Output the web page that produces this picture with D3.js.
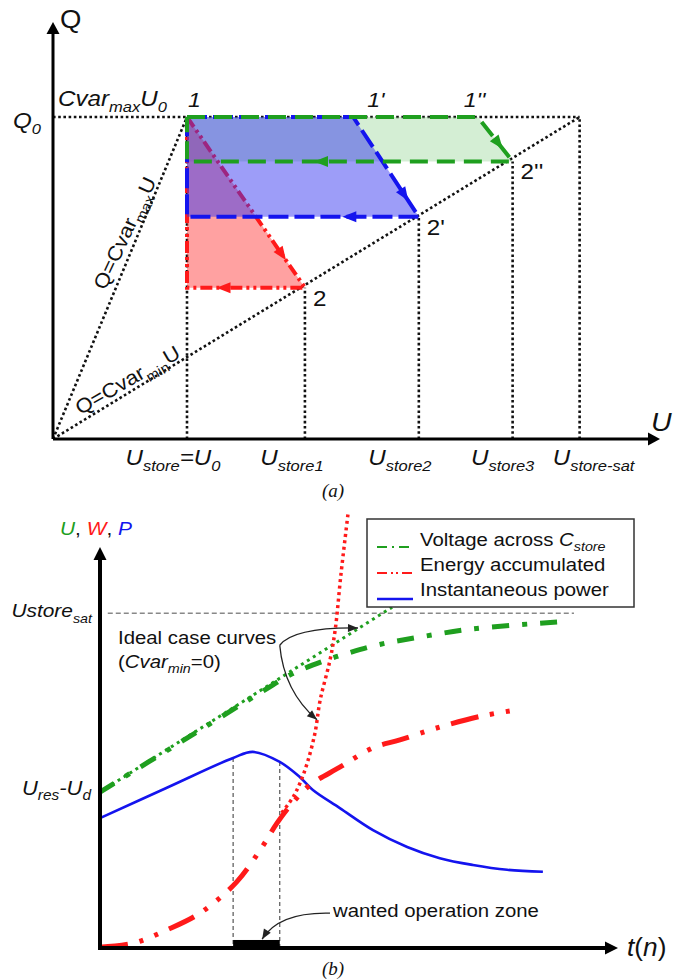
<!DOCTYPE html>
<html><head><meta charset="utf-8">
<script src="https://cdn.jsdelivr.net/npm/d3@7"></script>
<style>body{margin:0;background:#fff}svg{display:block}</style>
</head><body>
<svg id="c" width="682" height="980"></svg>
<script>
// ================= DATA =================
// ---- panel (a): Q-U charge cycles ----
const uLevels     = [1.00, 1.88, 2.73, 3.43, 3.93];          // U0, Ustore1, Ustore2, Ustore3, Ustore-sat
const uLevelNames = ["U_{store}=U_{0}", "U_{store1}", "U_{store2}", "U_{store3}", "U_{store-sat}"];
const q0 = 1.0;                                              // Q0 = Cvar_max * U0
const cycleTopU = [1.00, 2.24, 3.17];                        // points 1, 1', 1''
const cycleEndU = [1.88, 2.73, 3.43];                        // points 2, 2', 2''
const cycleEndQ = [0.47, 0.69, 0.862];
const topLabels = ["1", "1'", "1''"];
const endLabels = ["2", "2'", "2''"];

// ---- panel (b): time evolution ----
const tVolt  = [0, 16, 31.5, 37, 43, 48, 54, 62, 72, 88.4];
const vVolt  = [38.9, 51.7, 64.1, 68.3, 71.5, 73.6, 75.7, 77.6, 79.6, 81.3];
const tVoltIdeal = [0, 56.4];
const vVoltIdeal = [38.9, 85.0];
const tEnergy = [0, 6.4, 12.9, 19.3, 26.4, 31.3, 34.2, 37.3, 40.5, 46.3, 52.7, 57.9, 65.6, 73.9, 80.5];
const vEnergy = [0.2, 1.2, 4.5, 8.7, 16.5, 25.2, 31.2, 36.4, 40.6, 45.1, 49.9, 51.9, 55.1, 57.9, 59.4];
const tEnergyIdeal = [35.1, 37.3, 38.6, 40.0, 41.5, 42.5, 44.4, 45.4, 46.5, 47.9];
const vEnergyIdeal = [33.7, 37.7, 41.1, 46.1, 53.6, 61.8, 71.8, 79.3, 93.0, 108.5];
const tPower = [0, 12.8, 25.7, 29.5, 34.7, 38.6, 41.1, 46.3, 52.7, 59.3, 65.6, 72.0, 78.6, 85.5];
const vPower = [32.4, 39.9, 47.4, 48.9, 46.4, 42.6, 39.4, 34.9, 29.4, 25.2, 22.4, 20.7, 19.5, 19.0];
const zoneT = [25.7, 34.7];                                  // wanted operation zone
const yLevels = [83.5, 38.9];
const yLevelNames = ["Ustore_{sat}", "U_{res}-U_{d}"];
const legendNames = ["Voltage across |C_{store}|", "Energy accumulated", "Instantaneous power"];

// ================= STYLE =================
const FONT = "Arial, 'Liberation Sans', sans-serif";
const SERIF = "'Times New Roman', 'Liberation Serif', serif";
const RED = "#ff1a1a", BLUE = "#1414ee", GREEN = "#1f9f1f";
const svg = d3.select("#c");

function parse(s, baseIt) {
  const parts = []; let it = baseIt, buf = "", i = 0;
  const push = () => { if (buf) parts.push({t: buf, sub: false, it}); buf = ""; };
  while (i < s.length) {
    const c = s[i];
    if (c === "|") { push(); it = !it; i++; }
    else if (c === "_" && s[i + 1] === "{") { push(); const j = s.indexOf("}", i); parts.push({t: s.slice(i + 2, j), sub: true, it}); i = j + 1; }
    else { buf += c; i++; }
  }
  push();
  return parts;
}
function label(parent, x, y, str, o = {}) {
  const size = o.size || 22, sub = o.sub || Math.round(size * 0.68), subDy = o.subDy != null ? o.subDy : Math.round(size * 0.28);
  const g = parent.append("g").attr("transform", `translate(${x},${y}) rotate(${o.rot || 0}) scale(${o.sx || 1.1},1)`);
  const t = g.append("text").attr("font-family", o.family || FONT).attr("font-size", size)
    .attr("text-anchor", o.anchor || "start").attr("fill", o.fill || "#111").style("white-space", "pre");
  let cur = 0;
  parse(str, !!o.italic).forEach(p => {
    const target = p.sub ? subDy : 0;
    const ts = t.append("tspan").text(p.t).attr("dy", target - cur).attr("font-style", p.it ? "italic" : "normal");
    if (p.sub) ts.attr("font-size", sub);
    cur = target;
  });
  return t;
}
function arrowHead(parent, x, y, ang, len, wid, color) {
  const c = Math.cos(ang), s = Math.sin(ang);
  const bx = x - c * len, by = y - s * len;
  const px = -s * wid / 2, py = c * wid / 2;
  parent.append("path").attr("d", `M${x},${y}L${bx + px},${by + py}L${bx - px},${by - py}Z`).attr("fill", color);
}

// ================= PANEL (a) =================
const xA = d3.scaleLinear().domain([0, 1]).range([53, 187]);
const yA = d3.scaleLinear().domain([0, 1]).range([439, 117]);
const lineA = d3.line().x(d => xA(d[0])).y(d => yA(d[1]));
const gA = svg.append("g");
const dotted = sel => sel.attr("stroke", "#111").attr("stroke-width", 2.6).attr("stroke-dasharray", "2.6,2.6").attr("fill", "none");

gA.append("path").attr("d", lineA([[0, q0], [uLevels[4], q0]])).call(dotted);
uLevels.forEach((u, i) => {
  const top = (i === 0 || i === 4) ? q0 : cycleEndQ[i - 1];
  gA.append("path").attr("d", lineA([[u, 0], [u, top]])).call(dotted);
});
gA.append("path").attr("d", lineA([[0, 0], [uLevels[0], q0]])).call(dotted);   // Q = Cvar_max U
gA.append("path").attr("d", lineA([[0, 0], [uLevels[4], q0]])).call(dotted);   // Q = Cvar_min U

const cyc = i => [[uLevels[0], q0], [cycleTopU[i], q0], [cycleEndU[i], cycleEndQ[i]], [uLevels[0], cycleEndQ[i]], [uLevels[0], q0]];
const cycStyle = [
  {fill: "rgba(255,40,40,0.44)", stroke: RED, dash: "12,4,3,4,3,4", diag: 0.84, bot: 0.75},
  {fill: "rgba(50,50,240,0.48)", stroke: BLUE, dash: "20,6", diag: 0.84, bot: 0.33},
  {fill: "rgba(130,205,130,0.34)", stroke: GREEN, dash: "18,9", diag: 0.72, bot: 0.61}
];
function drawFill(i) { gA.append("path").attr("d", lineA(cyc(i))).attr("fill", cycStyle[i].fill).attr("stroke", "none"); }
function drawStroke(i) {
  const st = cycStyle[i];
  gA.append("path").attr("d", lineA(cyc(i))).attr("fill", "none").attr("stroke", st.stroke)
    .attr("stroke-width", 4).attr("stroke-dasharray", st.dash);
  const p1 = [xA(cycleTopU[i]), yA(q0)], p2 = [xA(cycleEndU[i]), yA(cycleEndQ[i])], p3 = [xA(uLevels[0]), yA(cycleEndQ[i])];
  const a1 = Math.atan2(p2[1] - p1[1], p2[0] - p1[0]);
  arrowHead(gA, p1[0] + (p2[0] - p1[0]) * st.diag, p1[1] + (p2[1] - p1[1]) * st.diag, a1, 14, 11, st.stroke);
  arrowHead(gA, p2[0] + (p3[0] - p2[0]) * st.bot, p2[1], Math.PI, 14, 11, st.stroke);
}
drawFill(2); drawFill(0); drawStroke(0); drawFill(1); drawStroke(1); drawStroke(2);

// axes (a)
gA.append("path").attr("d", lineA([[0, 0], [0, 1.26]])).attr("stroke", "#000").attr("stroke-width", 3);
gA.append("path").attr("d", lineA([[0, 0], [4.45, 0]])).attr("stroke", "#000").attr("stroke-width", 3);
arrowHead(gA, xA(0), yA(1.295), -Math.PI / 2, 12, 13, "#000");
arrowHead(gA, xA(4.53), yA(0), 0, 12, 13, "#000");

// labels (a)
label(gA, xA(0) + 7, yA(1.295) + 6, "Q", {size: 25});
label(gA, xA(4.53) - 9, yA(0) - 8, "U", {size: 26, italic: true});
label(gA, xA(0) - 40, yA(q0) + 11, "Q_{0}", {size: 22, italic: true});
label(gA, xA(0) + 5, yA(q0) - 11, "Cvar_{max}U_{0}", {size: 22, italic: true});
const topDx = [1, 14, -14];
cycleTopU.forEach((u, i) => label(gA, xA(u) + topDx[i], yA(q0) - 10, topLabels[i], {size: 21, italic: true}));
cycleEndU.forEach((u, i) => label(gA, xA(u) + 8, yA(cycleEndQ[i]) + 18, endLabels[i], {size: 22}));
const uLabDx = [-14, -13, -19, -10, 14];
uLevels.forEach((u, i) => label(gA, xA(u) + uLabDx[i], yA(0) + 26, uLevelNames[i], {size: 22, italic: true, sub: 15, subDy: 6, anchor: "middle"}));
label(gA, 131, 236, "Q=Cvar_{max}U", {size: 20, rot: -65, anchor: "middle", sub: 14, subDy: 6});
label(gA, 131, 386, "Q=Cvar_{min}U", {size: 20, rot: -30, anchor: "middle", sub: 14, subDy: 6});
label(gA, 322, 497, "(a)", {size: 19, italic: true, family: SERIF, sx: 1});

// ================= PANEL (b) =================
const xB = d3.scaleLinear().domain([0, 100]).range([100, 618]);
const yB = d3.scaleLinear().domain([0, 100]).range([948, 547]);
const gB = svg.append("g");
const curve = d3.curveCatmullRom.alpha(0.5);
const lineB = d3.line().x(d => xB(d[0])).y(d => yB(d[1])).curve(curve);
const zip = (a, b) => a.map((v, i) => [v, b[i]]);

// reference lines
gB.append("path").attr("d", d3.line()([[xB(1.5), yB(yLevels[0])], [xB(91.5), yB(yLevels[0])]]))
  .attr("stroke", "#888").attr("stroke-width", 1.5).attr("stroke-dasharray", "5,3").attr("fill", "none");
zoneT.forEach(t => {
  const v = vPower[tPower.indexOf(t)];
  gB.append("path").attr("d", d3.line()([[xB(t), yB(v)], [xB(t), yB(0)]]))
    .attr("stroke", "#555").attr("stroke-width", 1.2).attr("stroke-dasharray", "4,3").attr("fill", "none");
});

// curves
gB.append("path").attr("d", lineB(zip(tPower, vPower))).attr("fill", "none").attr("stroke", BLUE).attr("stroke-width", 2.6);
gB.append("path").attr("d", d3.line().x(d => xB(d[0])).y(d => yB(d[1]))(zip(tVoltIdeal, vVoltIdeal)))
  .attr("fill", "none").attr("stroke", GREEN).attr("stroke-width", 3).attr("stroke-dasharray", "3,4");
gB.append("path").attr("d", lineB(zip(tVolt, vVolt))).attr("fill", "none").attr("stroke", GREEN)
  .attr("stroke-width", 5).attr("stroke-dasharray", "17,13,5,13");
gB.append("path").attr("d", lineB(zip(tEnergyIdeal, vEnergyIdeal))).attr("fill", "none").attr("stroke", RED)
  .attr("stroke-width", 3.5).attr("stroke-dasharray", "3,3.5");
gB.append("path").attr("d", lineB(zip(tEnergy, vEnergy))).attr("fill", "none").attr("stroke", RED)
  .attr("stroke-width", 5).attr("stroke-dasharray", "28,12,4,12,4,12");

// axes (b)
gB.append("path").attr("d", d3.line()([[xB(0), yB(0)], [xB(0), yB(97)]])).attr("stroke", "#000").attr("stroke-width", 4);
gB.append("path").attr("d", d3.line()([[xB(0) - 2, yB(0)], [xB(97.7), yB(0)]])).attr("stroke", "#000").attr("stroke-width", 4);
arrowHead(gB, xB(0), yB(100), -Math.PI / 2, 13, 13, "#000");
arrowHead(gB, xB(100), yB(0), 0, 13, 13, "#000");
gB.append("rect").attr("x", xB(zoneT[0])).attr("y", yB(2)).attr("width", xB(zoneT[1]) - xB(zoneT[0])).attr("height", yB(0) - yB(2)).attr("fill", "#000");

// y level labels
label(gB, 92, yB(yLevels[0]) + 4, yLevelNames[0], {size: 19, italic: true, anchor: "end", sub: 13, subDy: 6});
label(gB, 91, yB(yLevels[1]) + 3, yLevelNames[1], {size: 20, italic: true, anchor: "end", sub: 14, subDy: 5});
const uwp = label(gB, 60, 535, "U|, |W|, |P", {size: 19, italic: true});
uwp.selectAll("tspan").attr("fill", (d, i) => [GREEN, "#111", RED, "#111", BLUE][i]);
label(gB, 627, 956, "|t|(|n|)", {size: 25, sx: 1.05});
label(gB, 322, 975, "(b)", {size: 19, italic: true, family: SERIF, sx: 1});

// annotations
label(gB, 118, 644, "Ideal case curves", {size: 18.5});
label(gB, 118, 668, "(|Cvar_{min}|=0)", {size: 18.5, sub: 13, subDy: 5});
label(gB, 333, 917, "wanted operation zone", {size: 18.5});
function curvedArrow(p0, c, p1) {
  const P0 = [xB(p0[0]), yB(p0[1])], C = [xB(c[0]), yB(c[1])], P1 = [xB(p1[0]), yB(p1[1])];
  gB.append("path").attr("d", `M${P0}Q${C} ${P1}`).attr("fill", "none").attr("stroke", "#222").attr("stroke-width", 1.3);
  arrowHead(gB, P1[0], P1[1], Math.atan2(P1[1] - C[1], P1[0] - C[0]), 10, 8, "#222");
}
curvedArrow([34.7, 75.5], [37.5, 80.0], [49.8, 79.8]);
curvedArrow([34.7, 75.5], [35.5, 64.0], [41.9, 56.9]);
curvedArrow([44.4, 8.7], [34.5, 9.0], [31.3, 2.2]);

// legend
const lg = gB.append("g");
lg.append("rect").attr("x", 367).attr("y", 519).attr("width", 267).attr("height", 88).attr("fill", "#fff").attr("stroke", "#333").attr("stroke-width", 1.5);
const legStyle = [
  {c: GREEN, dash: "10,5,2,5,10", w: 2.2},
  {c: RED, dash: "10,4,2,3,2,4,10", w: 2.2},
  {c: BLUE, dash: null, w: 2.5}
];
legendNames.forEach((n, i) => {
  const y = 546 + i * 25;
  lg.append("path").attr("d", d3.line()([[377, y + 1 + i], [413, y + 1 + i]])).attr("stroke", legStyle[i].c)
    .attr("stroke-width", legStyle[i].w).attr("stroke-dasharray", legStyle[i].dash).attr("fill", "none");
  label(lg, 420, y, n, {size: 18.5, sub: 13, subDy: 5});
});
</script>
</body></html>
